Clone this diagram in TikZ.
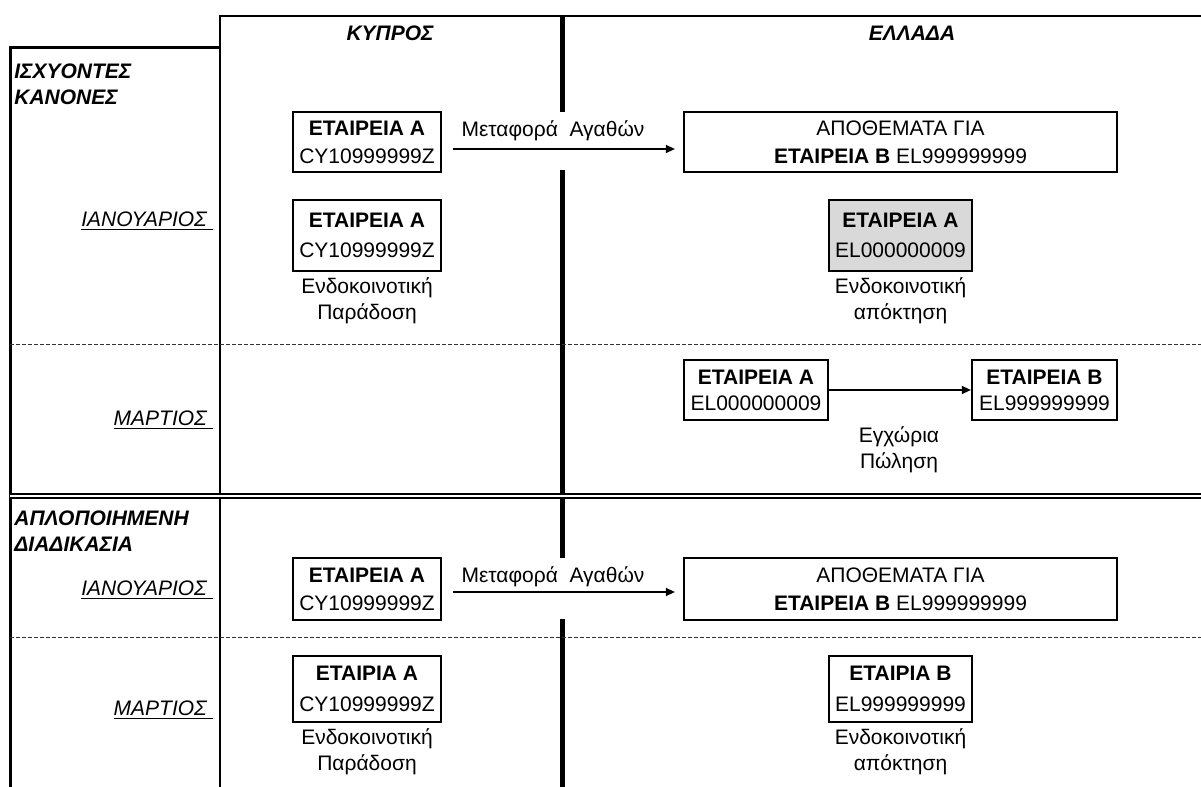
\documentclass[tikz,border=0pt]{standalone}
\usepackage{fontspec}
\setmainfont{Liberation Sans}
\usetikzlibrary{arrows.meta}

\begin{document}
\begin{tikzpicture}[
    x=0.5pt, y=-0.5pt,
    firm/.style={rectangle, draw, line width=1.1pt, inner sep=0pt, align=center, minimum width=74pt, minimum height=30pt, font=\fontsize{10.5}{14}\selectfont},
    note/.style={align=center, inner sep=0pt, font=\fontsize{10.5}{13}\selectfont},
    month/.style={anchor=east, inner sep=0pt, font=\fontsize{10.5}{13}\selectfont\itshape},
    section/.style={anchor=west, align=left, inner sep=0pt, font=\fontsize{10.5}{13}\selectfont\bfseries\itshape},
    country/.style={inner sep=0pt, font=\fontsize{10.5}{13}\selectfont\bfseries\itshape},
    arrow/.style={-{Triangle[length=4.5pt, width=4pt]}, line width=0.6pt},
    grid/.style={line width=1.3pt},
    divider/.style={line width=2.3pt},
    dashline/.style={line width=0.5pt, black!80, dash pattern=on 2pt off 1pt}
]
    \useasboundingbox (0,0) rectangle (1201,787);

    % Table lines
    \draw[grid] (220,787) -- (220,16) -- (1201,16);
    \draw[grid, line width=1.5pt] (10,787) -- (10,47) -- (220,47);
    \draw[divider] (562.5,16) -- (562.5,112);
    \draw[divider] (562.5,170) -- (562.5,558);
    \draw[divider] (562.5,619) -- (562.5,787);
    \draw[dashline] (10,344) -- (1201,344);
    \draw[dashline] (10,637) -- (1201,637);
    \draw[double, double distance=0.7pt, line width=1pt] (10,496) -- (1201,496);

    % Column titles
    \node[country] (cyprus) at (390,33) {ΚΥΠΡΟΣ};
    \node[country] (greece) at (912,33) {ΕΛΛΑΔΑ};

    % Row titles
    \node[section] (rules) at (14,84.5) {ΙΣΧΥΟΝΤΕΣ\\ΚΑΝΟΝΕΣ};
    \node[month] (jan1) at (213,221) {\underline{ΙΑΝΟΥΑΡΙΟΣ\ }};
    \node[month] (mar1) at (213,420) {\underline{ΜΑΡΤΙΟΣ\ }};
    \node[section] (simple) at (14,531) {ΑΠΛΟΠΟΙΗΜΕΝΗ\\ΔΙΑΔΙΚΑΣΙΑ};
    \node[month] (jan2) at (213,590) {\underline{ΙΑΝΟΥΑΡΙΟΣ\ }};
    \node[month] (mar2) at (213,710) {\underline{ΜΑΡΤΙΟΣ\ }};

    % Current rules: January
    \node[firm] (cyA1) at (367,142) {\textbf{ΕΤΑΙΡΕΙΑ Α}\\CY10999999Z};
    \node[firm, minimum width=216.5pt] (stock1) at (900.5,142) {ΑΠΟΘΕΜΑΤΑ ΓΙΑ\\\textbf{ΕΤΑΙΡΕΙΑ Β} EL999999999};
    \node[note] (move1) at (553,131) {Μεταφορά\ \ Αγαθών};
    \draw[arrow, shorten <=5.5pt, shorten >=4pt] ([yshift=-3.5pt]cyA1.east) -- ([yshift=-3.5pt]stock1.west);

    \node[firm, minimum height=35.5pt, font=\fontsize{10.5}{15}\selectfont] (cyA2) at (367,235.5) {\textbf{ΕΤΑΙΡΕΙΑ Α}\\CY10999999Z};
    \node[note] (supply1) at (367,301) {Ενδοκοινοτική\\Παράδοση};
    \node[firm, fill=black!15, minimum width=71.5pt, minimum height=35.5pt, font=\fontsize{10.5}{15}\selectfont] (grA) at (900.5,235.5) {\textbf{ΕΤΑΙΡΕΙΑ Α}\\EL000000009};
    \node[note] (acq1) at (900.5,301) {Ενδοκοινοτική\\απόκτηση};

    % Current rules: March
    \node[firm, minimum width=72pt, font=\fontsize{10.5}{13}\selectfont] (elA) at (756,390) {\textbf{ΕΤΑΙΡΕΙΑ Α}\\EL000000009};
    \node[firm, minimum width=72.5pt, font=\fontsize{10.5}{13}\selectfont] (elB) at (1044.5,390) {\textbf{ΕΤΑΙΡΕΙΑ Β}\\EL999999999};
    \draw[arrow] (elA) -- (elB);
    \node[note] (sale) at (899,449.5) {Εγχώρια\\Πώληση};

    % Simplified procedure: January
    \node[firm, minimum height=31pt] (cyA3) at (367,589) {\textbf{ΕΤΑΙΡΕΙΑ Α}\\CY10999999Z};
    \node[firm, minimum width=216.5pt, minimum height=31pt] (stock2) at (900.5,589) {ΑΠΟΘΕΜΑΤΑ ΓΙΑ\\\textbf{ΕΤΑΙΡΕΙΑ Β} EL999999999};
    \node[note] (move2) at (553,577) {Μεταφορά\ \ Αγαθών};
    \draw[arrow, shorten <=5.5pt, shorten >=4pt] ([yshift=-1.5pt]cyA3.east) -- ([yshift=-1.5pt]stock2.west);

    % Simplified procedure: March
    \node[firm, minimum height=33pt, font=\fontsize{10.5}{15.5}\selectfont] (cyA4) at (367,689) {\textbf{ΕΤΑΙΡΙΑ Α}\\CY10999999Z};
    \node[note] (supply2) at (367,752) {Ενδοκοινοτική\\Παράδοση};
    \node[firm, minimum width=71.5pt, minimum height=33pt, font=\fontsize{10.5}{15.5}\selectfont] (grB) at (900.5,689) {\textbf{ΕΤΑΙΡΙΑ Β}\\EL999999999};
    \node[note] (acq2) at (900.5,752) {Ενδοκοινοτική\\απόκτηση};
\end{tikzpicture}
\end{document}
